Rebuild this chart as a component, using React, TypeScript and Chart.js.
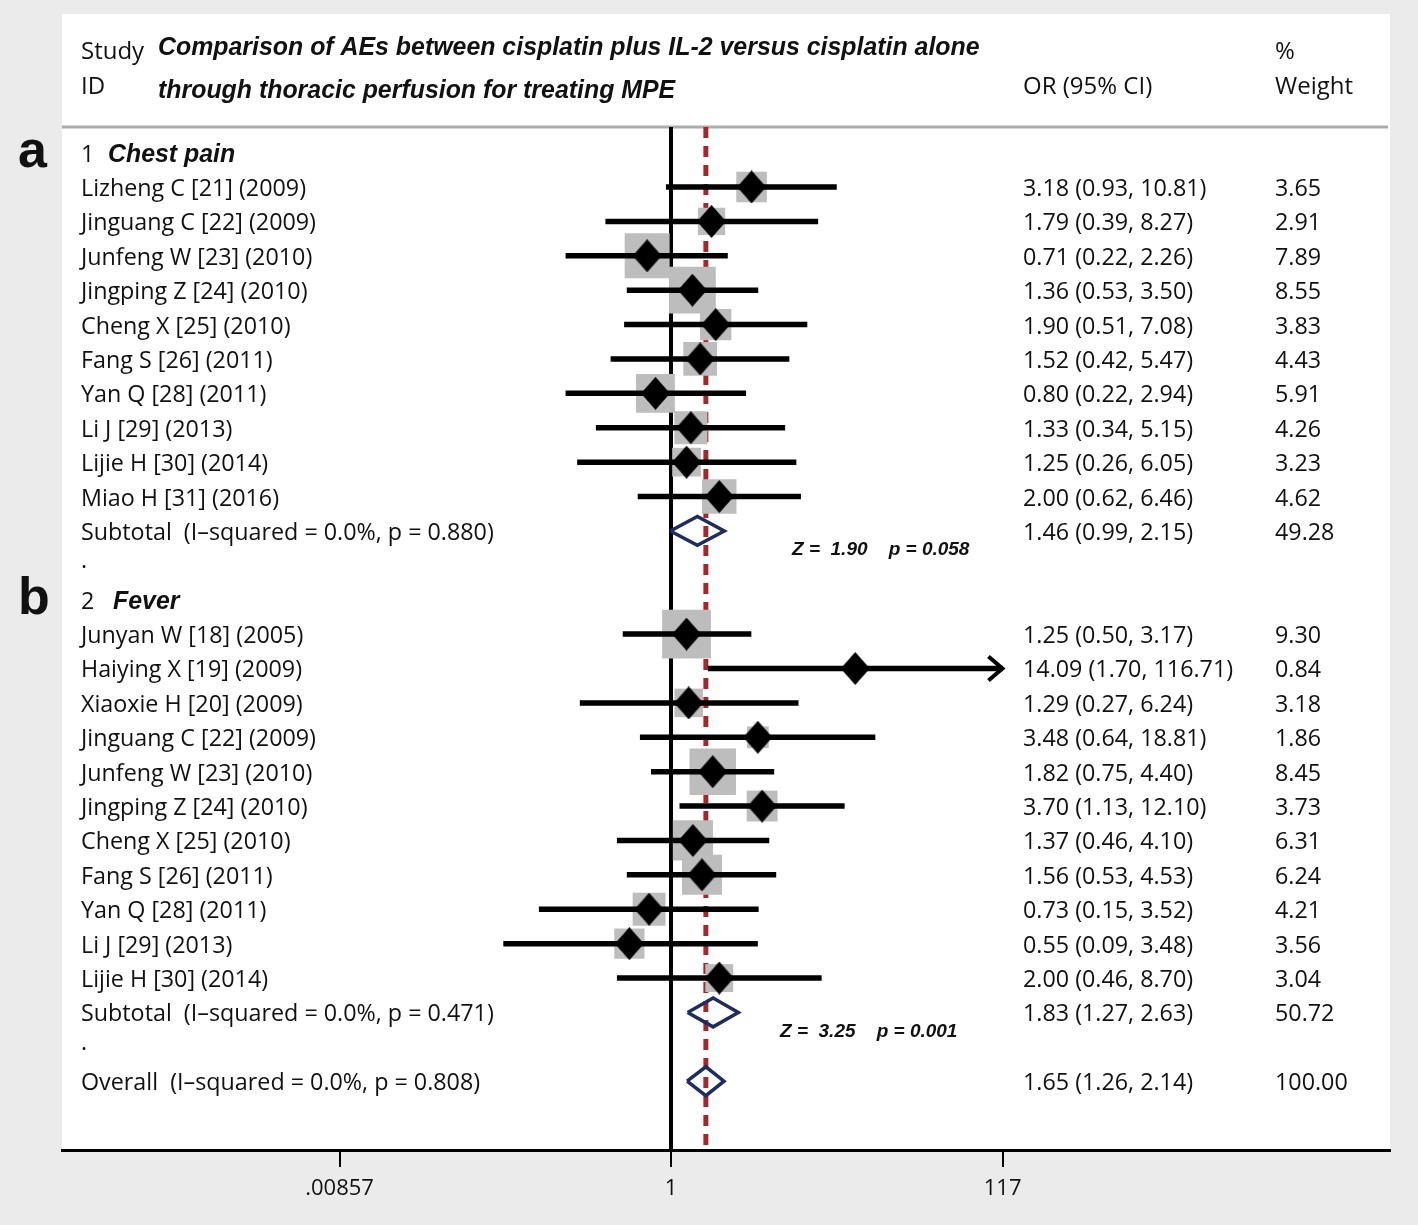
import React, { useEffect, useRef } from 'react';
import { Chart, registerables } from 'chart.js';

Chart.register(...registerables);

// ---------------- data ----------------
const titleLines = [
  'Comparison of AEs between cisplatin plus IL-2 versus cisplatin alone',
  'through thoracic perfusion for treating MPE',
];
const groupNames = ['Chest pain', 'Fever'];
const panelLetters = ['a', 'b'];

const chestLabels = [
  'Lizheng C [21] (2009)', 'Jinguang C [22] (2009)', 'Junfeng W [23] (2010)', 'Jingping Z [24] (2010)',
  'Cheng X [25] (2010)', 'Fang S [26] (2011)', 'Yan Q [28] (2011)', 'Li J [29] (2013)',
  'Lijie H [30] (2014)', 'Miao H [31] (2016)',
];
const chestOR = [3.18, 1.79, 0.71, 1.36, 1.90, 1.52, 0.80, 1.33, 1.25, 2.00];
const chestLower = [0.93, 0.39, 0.22, 0.53, 0.51, 0.42, 0.22, 0.34, 0.26, 0.62];
const chestUpper = [10.81, 8.27, 2.26, 3.50, 7.08, 5.47, 2.94, 5.15, 6.05, 6.46];
const chestWeight = [3.65, 2.91, 7.89, 8.55, 3.83, 4.43, 5.91, 4.26, 3.23, 4.62];

const feverLabels = [
  'Junyan W [18] (2005)', 'Haiying X [19] (2009)', 'Xiaoxie H [20] (2009)', 'Jinguang C [22] (2009)',
  'Junfeng W [23] (2010)', 'Jingping Z [24] (2010)', 'Cheng X [25] (2010)', 'Fang S [26] (2011)',
  'Yan Q [28] (2011)', 'Li J [29] (2013)', 'Lijie H [30] (2014)',
];
const feverOR = [1.25, 14.09, 1.29, 3.48, 1.82, 3.70, 1.37, 1.56, 0.73, 0.55, 2.00];
const feverLower = [0.50, 1.70, 0.27, 0.64, 0.75, 1.13, 0.46, 0.53, 0.15, 0.09, 0.46];
const feverUpper = [3.17, 116.71, 6.24, 18.81, 4.40, 12.10, 4.10, 4.53, 3.52, 3.48, 8.70];
const feverWeight = [9.30, 0.84, 3.18, 1.86, 8.45, 3.73, 6.31, 6.24, 4.21, 3.56, 3.04];

const subtotalHet = ['I\u2013squared = 0.0%, p = 0.880', 'I\u2013squared = 0.0%, p = 0.471'];
const subtotalOR = [1.46, 1.83];
const subtotalLower = [0.99, 1.27];
const subtotalUpper = [2.15, 2.63];
const subtotalWeight = [49.28, 50.72];
const subtotalZ = ['1.90', '3.25'];
const subtotalP = ['0.058', '0.001'];

const overallHet = 'I\u2013squared = 0.0%, p = 0.808';
const overallOR = 1.65;
const overallLower = 1.26;
const overallUpper = 2.14;
const overallWeight = 100.0;

const xTickValues = [0.00857, 1, 117];
const xTickLabels = ['.00857', '1', '117'];

// ---------------- layout / style ----------------
const W = 1418;
const H = 1225;
const X_MIN = Math.pow(10, -3.798);
const X_MAX = Math.pow(10, 4.484);
const Y_MIN = -4.03;
const Y_MAX = 29;
const HEADER_LINE_Y = -0.744;
const ARROW_MAX = 117;
const ROW_FONT = '23.3px "Open Sans"';
const HEAD_FONT = '24px "Open Sans"';
const BI_FONT = 'italic bold 24.9px "Liberation Sans"';
const Z_FONT = 'italic bold 19px "Liberation Sans"';
const LETTER_FONT = 'bold 52px "Liberation Sans"';
const LABEL_X = 19; // offset from chart left
const OR_X = 961;
const WT_X = 1213;
const GROUP_NAME_X = [46, 51];
const Z_X = [730, 718];
const BG_GRAY = '#ebebeb';
const BOX_GRAY = '#bdbdbd';
const NAVY = '#1f2d5e';
const RED = '#a3282c';

function makeDiamond(w: number, h: number) {
  const c = document.createElement('canvas');
  c.width = w;
  c.height = h;
  const g = c.getContext('2d')!;
  g.fillStyle = '#000';
  g.beginPath();
  g.moveTo(w / 2, 0);
  g.lineTo(w, h / 2);
  g.lineTo(w / 2, h);
  g.lineTo(0, h / 2);
  g.closePath();
  g.fill();
  return c;
}

const fmt = (v: number) => v.toFixed(2);

export default function App() {
  const ref = useRef<HTMLCanvasElement>(null);

  useEffect(() => {
    document.body.style.margin = '0';
    const canvas = ref.current!;

    type Study = { row: number; label: string; or: number; lo: number; hi: number; w: number };
    const studies: Study[] = [];
    const groupRows: number[] = [];
    const subRows: number[] = [];
    const dotRows: number[] = [];
    let r = 0;
    const groups = [
      { labels: chestLabels, or: chestOR, lo: chestLower, hi: chestUpper, w: chestWeight },
      { labels: feverLabels, or: feverOR, lo: feverLower, hi: feverUpper, w: feverWeight },
    ];
    groups.forEach((g) => {
      groupRows.push(r);
      r += 1;
      g.labels.forEach((lab, i) => {
        studies.push({ row: r, label: lab, or: g.or[i], lo: g.lo[i], hi: g.hi[i], w: g.w[i] });
        r += 1;
      });
      subRows.push(r);
      r += 1;
      dotRows.push(r);
      r += 1;
    });
    const overallRow = r;

    const ciData: any[] = [];
    studies.forEach((s) => {
      ciData.push({ x: s.lo, y: s.row });
      ciData.push({ x: Math.min(s.hi, ARROW_MAX), y: s.row });
      ciData.push({ x: null, y: null });
    });

    const summaries = [
      ...subtotalOR.map((o, i) => ({ row: subRows[i], or: o, lo: subtotalLower[i], hi: subtotalUpper[i] })),
      { row: overallRow, or: overallOR, lo: overallLower, hi: overallUpper },
    ];
    const DH = 0.42;
    const sumData: any[] = [];
    summaries.forEach((s) => {
      sumData.push({ x: s.lo, y: s.row });
      sumData.push({ x: s.or, y: s.row - DH });
      sumData.push({ x: s.hi, y: s.row });
      sumData.push({ x: s.or, y: s.row + DH });
      sumData.push({ x: s.lo, y: s.row });
      sumData.push({ x: null, y: null });
    });

    const diamondImg = makeDiamond(29, 33);
    const boxSide = (w: number) => 16 * Math.sqrt(w);

    const bgPlugin = {
      id: 'bg',
      beforeDraw(chart: any) {
        const { ctx, chartArea: ca } = chart;
        ctx.save();
        ctx.fillStyle = BG_GRAY;
        ctx.fillRect(0, 0, chart.width, chart.height);
        ctx.fillStyle = '#fff';
        ctx.fillRect(ca.left, ca.top, ca.right - ca.left, ca.bottom - ca.top);
        const y = chart.scales.y.getPixelForValue(HEADER_LINE_Y);
        ctx.strokeStyle = '#acacac';
        ctx.lineWidth = 3;
        ctx.beginPath();
        ctx.moveTo(ca.left, y);
        ctx.lineTo(ca.right - 2, y);
        ctx.stroke();
        ctx.restore();
      },
    };

    const textPlugin = {
      id: 'forestText',
      afterDraw(chart: any) {
        const { ctx, chartArea: ca } = chart;
        const ys = chart.scales.y;
        const xs = chart.scales.x;
        const L = ca.left;
        const T = ca.top;
        ctx.save();
        ctx.fillStyle = '#111';
        ctx.textBaseline = 'alphabetic';
        ctx.textAlign = 'left';
        const rowY = (row: number) => ys.getPixelForValue(row) + 9;

        // header
        ctx.font = HEAD_FONT;
        ctx.fillText('Study', L + LABEL_X, T + 45);
        ctx.fillText('ID', L + LABEL_X, T + 80);
        ctx.fillText('OR (95% CI)', L + OR_X, T + 80);
        ctx.fillText('%', L + WT_X, T + 45);
        ctx.fillText('Weight', L + WT_X, T + 80);
        ctx.font = BI_FONT;
        ctx.fillText(titleLines[0], L + 96, T + 41);
        ctx.fillText(titleLines[1], L + 96, T + 84);

        // panel letters
        ctx.font = LETTER_FONT;
        groupRows.forEach((gr, i) => {
          ctx.fillText(panelLetters[i], 18, ys.getPixelForValue(gr) + 14);
        });

        // group headings
        groupRows.forEach((gr, i) => {
          ctx.font = ROW_FONT;
          ctx.fillText(String(i + 1), L + LABEL_X, rowY(gr));
          ctx.font = BI_FONT;
          ctx.fillText(groupNames[i], L + GROUP_NAME_X[i], rowY(gr));
        });

        ctx.font = ROW_FONT;
        studies.forEach((s) => {
          const y = rowY(s.row);
          ctx.fillText(s.label, L + LABEL_X, y);
          ctx.fillText(`${fmt(s.or)} (${fmt(s.lo)}, ${fmt(s.hi)})`, L + OR_X, y);
          ctx.fillText(fmt(s.w), L + WT_X, y);
        });
        subRows.forEach((sr, i) => {
          const y = rowY(sr);
          ctx.fillText(`Subtotal  (${subtotalHet[i]})`, L + LABEL_X, y);
          ctx.fillText(`${fmt(subtotalOR[i])} (${fmt(subtotalLower[i])}, ${fmt(subtotalUpper[i])})`, L + OR_X, y);
          ctx.fillText(fmt(subtotalWeight[i]), L + WT_X, y);
        });
        dotRows.forEach((dr) => {
          ctx.fillText('.', L + LABEL_X, rowY(dr) - 6);
        });
        {
          const y = rowY(overallRow);
          ctx.fillText(`Overall  (${overallHet})`, L + LABEL_X, y);
          ctx.fillText(`${fmt(overallOR)} (${fmt(overallLower)}, ${fmt(overallUpper)})`, L + OR_X, y);
          ctx.fillText(fmt(overallWeight), L + WT_X, y);
        }

        // Z tests
        ctx.font = Z_FONT;
        subRows.forEach((sr, i) => {
          ctx.fillText(`Z =  ${subtotalZ[i]}    p = ${subtotalP[i]}`, L + Z_X[i], ys.getPixelForValue(sr + 0.5) + 7);
        });

        // arrowheads for truncated CIs
        ctx.strokeStyle = '#000';
        ctx.lineWidth = 4;
        ctx.lineCap = 'butt';
        ctx.lineJoin = 'miter';
        studies.forEach((s) => {
          if (s.hi > ARROW_MAX * 0.99) {
            const px = xs.getPixelForValue(Math.min(s.hi, ARROW_MAX));
            const py = ys.getPixelForValue(s.row);
            ctx.beginPath();
            ctx.moveTo(px - 14, py - 12);
            ctx.lineTo(px, py);
            ctx.lineTo(px - 14, py + 12);
            ctx.stroke();
          }
        });
        ctx.restore();
      },
    };

    const chart = new Chart(canvas, {
      type: 'scatter',
      data: {
        datasets: [
          {
            data: [{ x: 1, y: HEADER_LINE_Y }, { x: 1, y: Y_MAX }],
            showLine: true,
            borderColor: '#000',
            borderWidth: 4,
            pointRadius: 0,
            order: 10,
          } as any,
          {
            data: [{ x: overallOR, y: HEADER_LINE_Y }, { x: overallOR, y: Y_MAX }],
            showLine: true,
            borderColor: RED,
            borderWidth: 5,
            borderDash: [11, 8],
            pointRadius: 0,
            order: 9,
          },
          {
            data: studies.map((s) => ({ x: s.or, y: s.row })),
            showLine: false,
            pointStyle: 'rect',
            pointRadius: (c: any) => boxSide(studies[c.dataIndex]?.w ?? 1) / Math.SQRT2,
            backgroundColor: BOX_GRAY,
            borderWidth: 0,
            order: 8,
          },
          {
            data: ciData,
            showLine: true,
            spanGaps: false,
            borderColor: '#000',
            borderWidth: 5.5,
            pointRadius: 0,
            order: 7,
          },
          {
            data: studies.map((s) => ({ x: s.or, y: s.row })),
            showLine: false,
            pointStyle: diamondImg,
            pointRadius: 15,
            order: 6,
          },
          {
            data: sumData,
            showLine: true,
            spanGaps: false,
            borderColor: NAVY,
            borderWidth: 3.5,
            pointRadius: 0,
            order: 5,
          },
        ],
      },
      options: {
        responsive: false,
        animation: false,
        devicePixelRatio: 1,
        layout: { autoPadding: false, padding: { left: 62, right: 28, top: 14, bottom: 0 } },
        plugins: { legend: { display: false }, tooltip: { enabled: false } },
        events: [],
        scales: {
          x: {
            type: 'logarithmic',
            min: X_MIN,
            max: X_MAX,
            afterBuildTicks: (s: any) => {
              s.ticks = xTickValues.map((v) => ({ value: v }));
            },
            afterFit: (s: any) => {
              s.height = 75;
            },
            grid: { drawOnChartArea: false, drawTicks: true, tickLength: 17, color: '#000', lineWidth: 2 },
            border: { display: true, color: '#000', width: 3 },
            ticks: {
              autoSkip: false,
              maxRotation: 0,
              padding: 9,
              color: '#111',
              font: { family: 'Open Sans', size: 22 },
              callback: (v: any) => {
                const i = xTickValues.findIndex((t) => Math.abs(t - Number(v)) < 1e-9 * Math.max(1, t));
                return i >= 0 ? xTickLabels[i] : '';
              },
            },
          },
          y: { type: 'linear', min: Y_MIN, max: Y_MAX, reverse: true, display: false },
        },
      },
      plugins: [bgPlugin, textPlugin],
    } as any);

    return () => chart.destroy();
  }, []);

  return (
    <div style={{ width: W, height: H }}>
      <canvas ref={ref} width={W} height={H} style={{ display: 'block', width: W, height: H }} />
    </div>
  );
}
